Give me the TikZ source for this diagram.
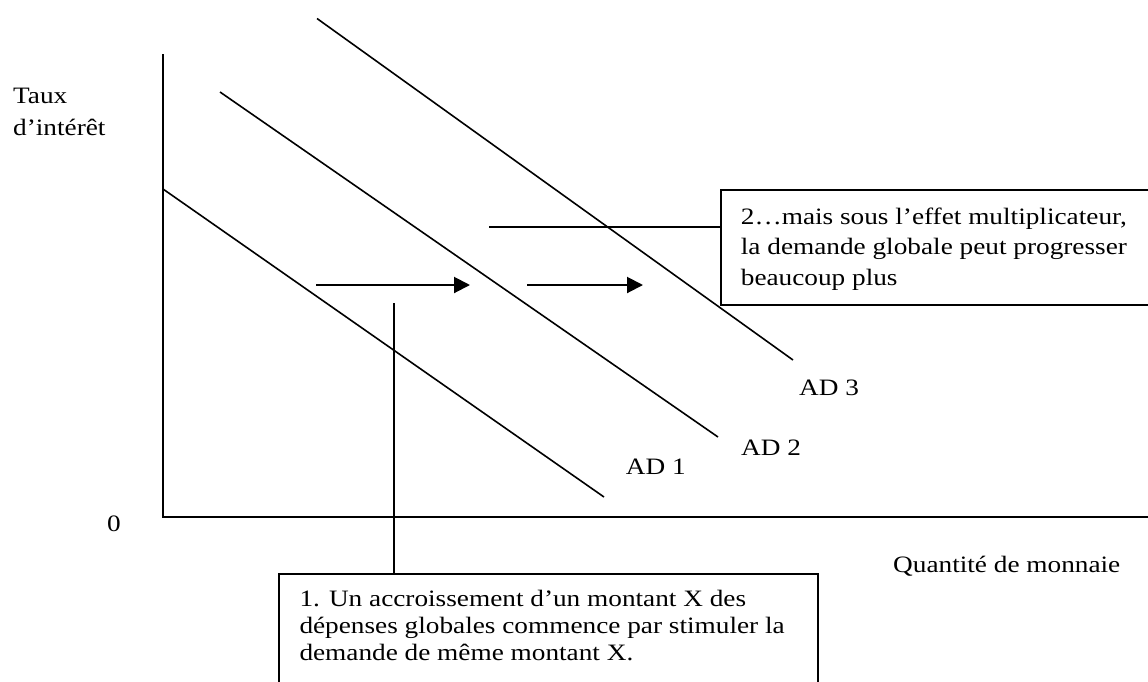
\documentclass[tikz,border=0pt]{standalone}
\usepackage{fontspec}
\setmainfont{Liberation Serif}[FakeStretch=1.16]
\usetikzlibrary{arrows.meta}
\begin{document}
\begin{tikzpicture}[x=1pt,y=-1pt,
  axisline/.style={line width=2pt},
  curveline/.style={line width=1.6pt},
  shiftarrow/.style={line width=2pt,-{Triangle[length=16pt,width=16pt]}},
  callout/.style={draw,line width=2pt,anchor=north west,inner sep=0pt},
  lbl/.style={anchor=base west,inner sep=0pt,font=\fontsize{23.5}{30}\selectfont},
]
\useasboundingbox (0,0) rectangle (1148,681);
\fill[white] (0,0) rectangle (1148,681);

% axes
\coordinate (O) at (163,517);
\coordinate (Ytop) at (163,54);
\coordinate (Xend) at (1150,517);
\draw[axisline] (Ytop) -- (O) -- (Xend);

% demand curves
\coordinate (a1s) at (163,189);
\coordinate (a1e) at (604,497);
\coordinate (a2s) at (220,92);
\coordinate (a2e) at (718,437);
\coordinate (a3s) at (317,18.5);
\coordinate (a3e) at (793,360);
\draw[curveline] (a1s) -- (a1e);
\draw[curveline] (a2s) -- (a2e);
\draw[curveline] (a3s) -- (a3e);

% shift arrows
\coordinate (r1s) at (316,285);
\coordinate (r1e) at (470,285);
\coordinate (r2s) at (527,285);
\coordinate (r2e) at (643,285);
\draw[shiftarrow] (r1s) -- (r1e);
\draw[shiftarrow] (r2s) -- (r2e);

% labels
\node[lbl] (ad3) at (799,395.5) {AD 3};
\node[lbl] (ad2) at (741,455) {AD 2};
\node[lbl] (ad1) at (625.7,474.3) {AD 1};
\node[lbl] (zero) at (107,531.5) {0};
\node[lbl] (xlab) at (893,572) {Quantité de monnaie};
\node[lbl,align=left,font=\fontsize{23.5}{32}\selectfont] (ylab) at (13,135) {Taux\\d’intérêt};

% callout boxes
\node[callout,minimum width=460pt,minimum height=115pt] (box2) at (720,189) {};
\node[lbl,align=left,font=\fontsize{23.5}{30.3}\selectfont] (t2) at (740.7,285.1)
  {2…mais sous l’effet multiplicateur,\\la demande globale peut progresser\\beaucoup plus};
\node[callout,minimum width=539pt,minimum height=140pt] (box1) at (278,573) {};
\node[lbl,align=left,font=\fontsize{23.5}{27}\selectfont] (t1) at (299.3,660.7)
  {1. Un accroissement d’un montant X des\\dépenses globales commence par stimuler la\\demande de même montant X.};

% callout connectors
\coordinate (c2) at (489,227);
\draw[curveline] (c2) -- (c2 -| box2.west);
\coordinate (c1) at (394,303);
\draw[curveline] (c1) -- (c1 |- box1.north);
\end{tikzpicture}
\end{document}
